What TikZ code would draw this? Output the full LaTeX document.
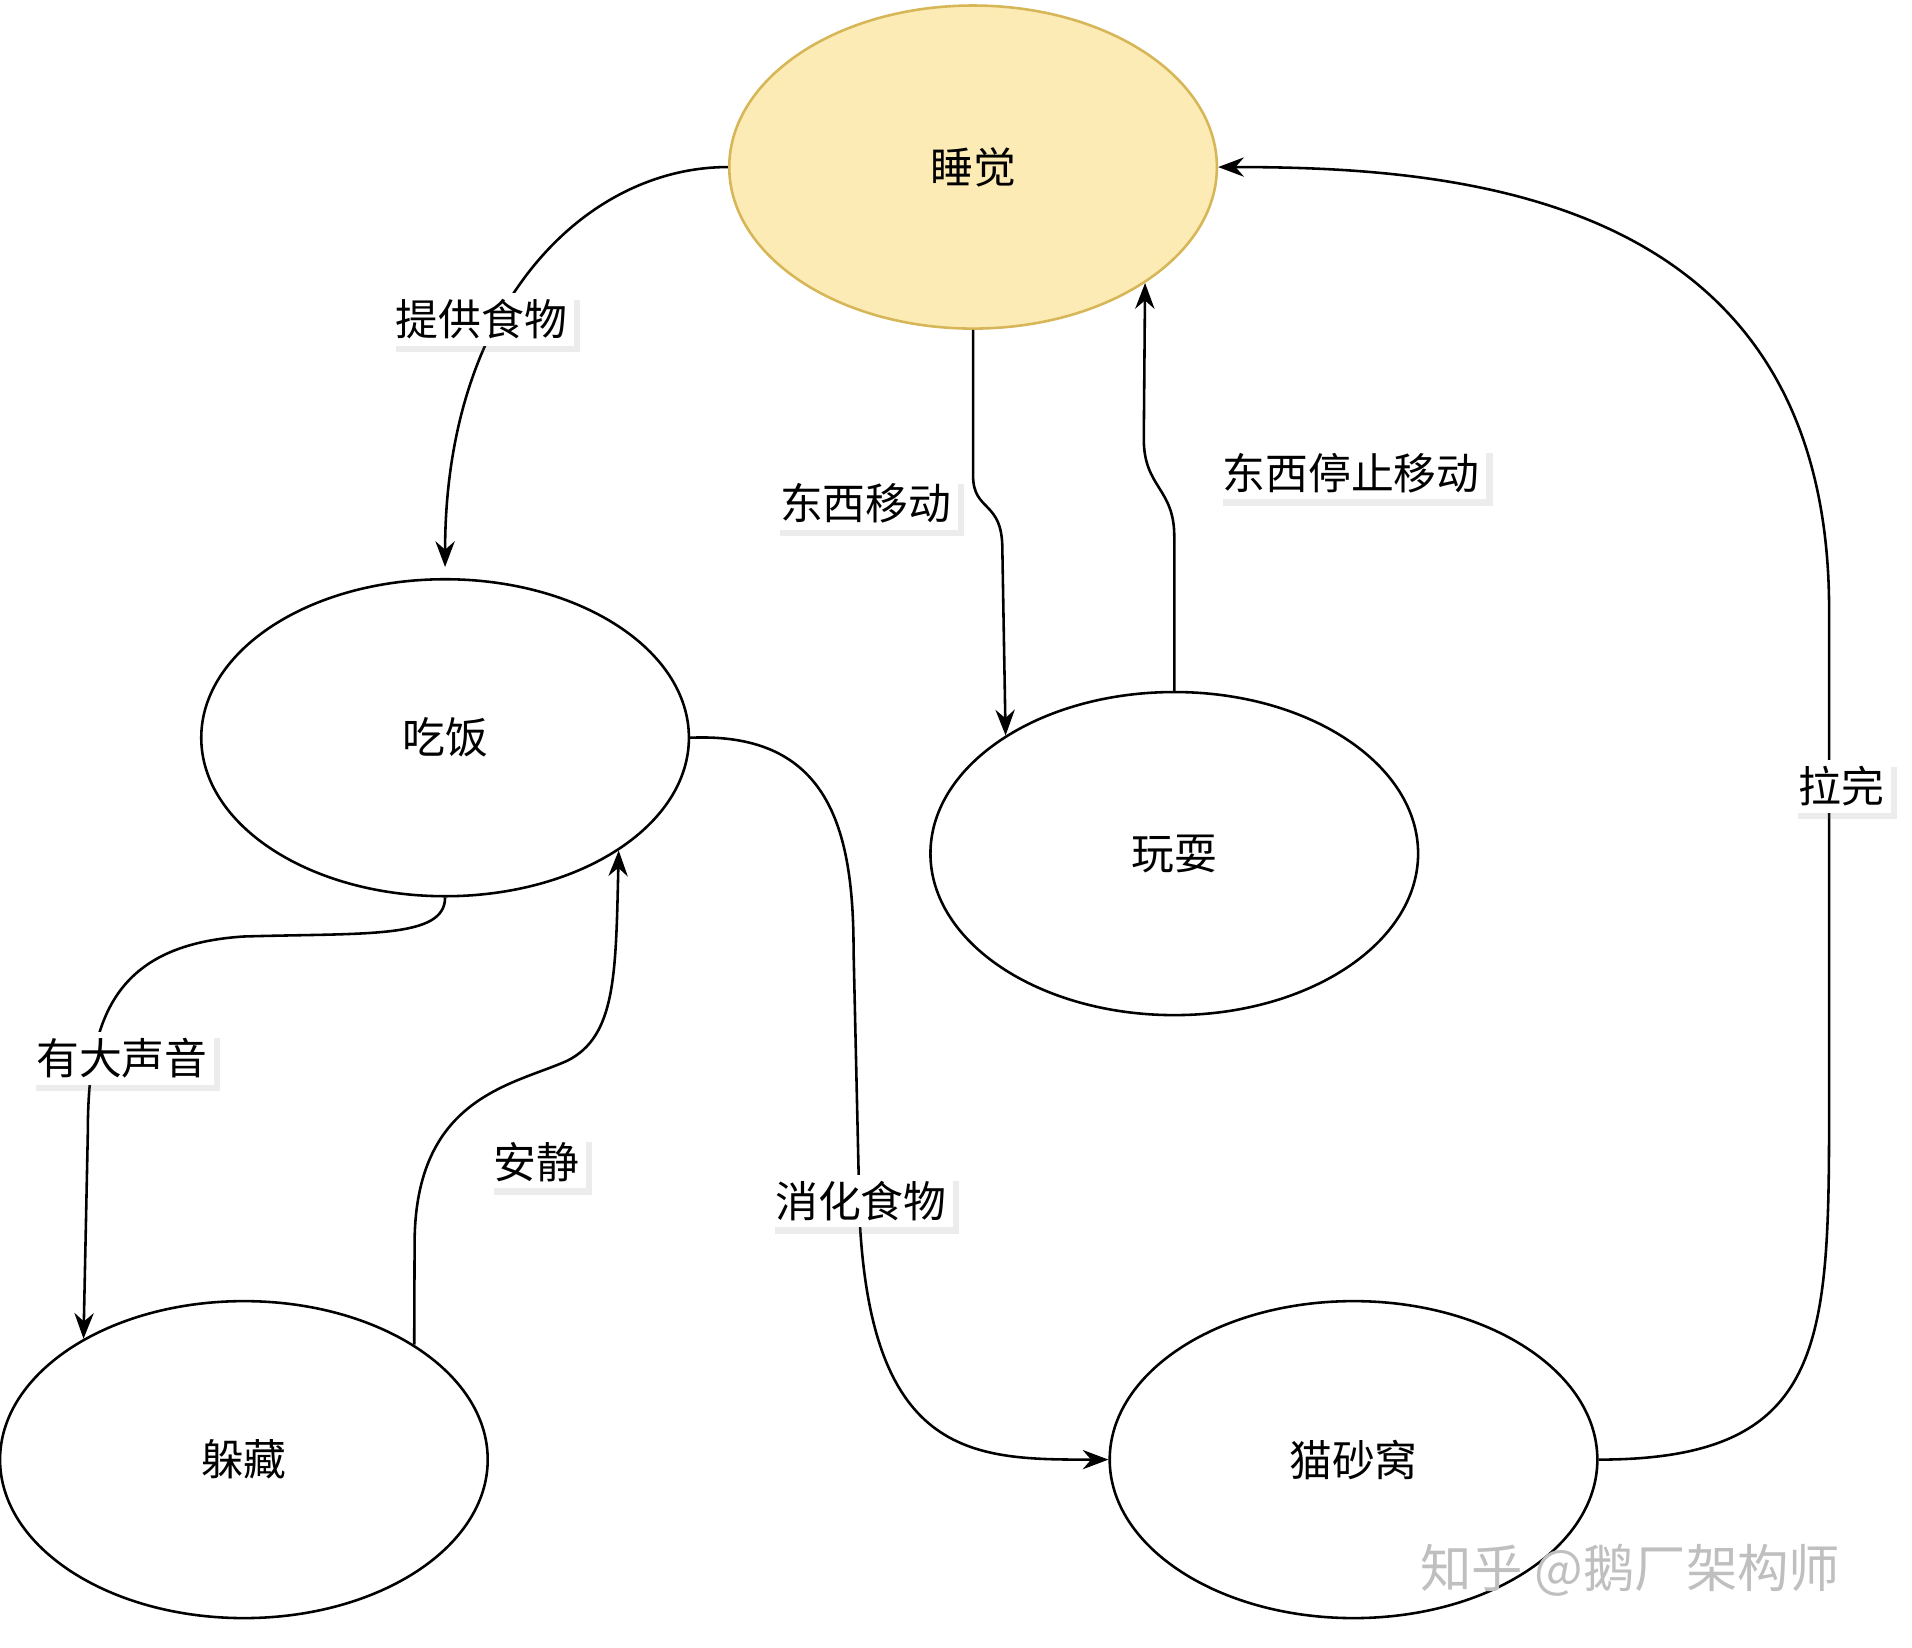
\documentclass[tikz,border=0pt]{standalone}
\usepackage{fontspec}
\setmainfont{Noto Sans CJK SC}
\usetikzlibrary{arrows.meta,shapes.geometric,shadows}
\definecolor{sleepfill}{HTML}{FDEBB5}
\definecolor{sleepline}{HTML}{D6B656}
\tikzset{
  state/.style={ellipse,draw=black,line width=1.2pt,minimum width=8cm,minimum height=5.2cm,font=\fontsize{20}{24}\selectfont},
  lbl/.style={fill=white,inner sep=3pt,font=\fontsize{20}{24}\selectfont,
    drop shadow={opacity=0.15,shadow xshift=3pt,shadow yshift=-3pt}},
  arrow/.style={line width=1.2pt,-{Stealth[length=12pt,width=9pt]}}
}
\begin{document}
\begin{tikzpicture}[x=0.02cm,y=-0.02cm]
\useasboundingbox (0,0) rectangle (1568,1351);

\node[state,fill=sleepfill,draw=sleepline,minimum height=5.3cm] (sleep) at (798,137) {睡觉};
\node[state] (eat) at (365,605) {吃饭};
\node[state,minimum height=5.3cm] (play) at (963,700) {玩耍};
\node[state] (hide) at (200,1197) {躲藏};
\node[state] (litter) at (1110,1197) {猫砂窝};

% connectors
\draw[arrow] (sleep.west) .. controls (480,137) and (365,250) .. (365,465);
\draw[arrow] (sleep.south) -- (798,390) .. controls (798,420) and (822,410) .. (822,450) -- (play.145);
\draw[arrow] (play.north) -- (963,440) .. controls (963,400) and (938,400) .. (938,360) -- (sleep.-34);
\draw[arrow] (eat.east) .. controls (680,600) and (700,680) .. (700,780) -- (705,1000)
  .. controls (715,1197) and (800,1197) .. (litter.west);
\draw[arrow] (litter.east) .. controls (1500,1197) and (1500,1100) .. (1500,900) -- (1500,500)
  .. controls (1500,160) and (1200,137) .. (sleep.east);
\draw[arrow] (eat.south) .. controls (365,770) and (300,765) .. (200,768)
  .. controls (90,775) and (72,840) .. (72,930) -- (hide.143);
\draw[arrow] (hide.34) -- (340,1020) .. controls (340,900) and (420,890) .. (465,870)
  .. controls (505,850) and (505,800) .. (eat.-33);

% labels
\node[lbl] (l1) at (395,262) {提供食物};
\node[lbl] (l2) at (710,413) {东西移动};
\node[lbl] (l3) at (1108,388) {东西停止移动};
\node[lbl] (l4) at (706,985) {消化食物};
\node[lbl] (l5) at (1510,645) {拉完};
\node[lbl] (l6) at (100,868) {有大声音};
\node[lbl] (l7) at (440,953) {安静};

\node[font=\fontsize{24}{28}\selectfont,text=gray!50] (mark) at (1337,1288) {知乎 @鹅厂架构师};
\end{tikzpicture}
\end{document}
